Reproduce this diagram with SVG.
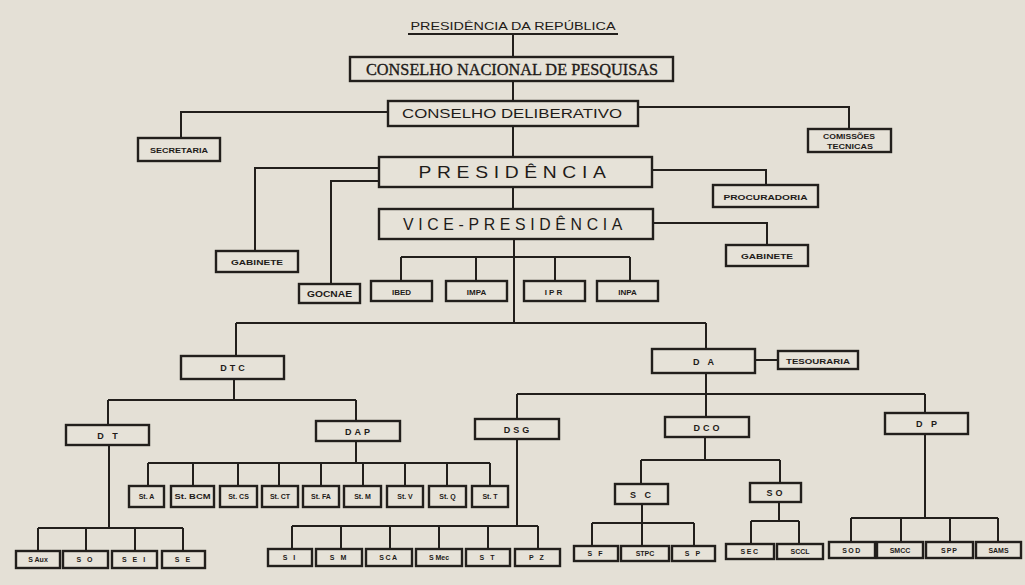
<svg xmlns="http://www.w3.org/2000/svg" width="1025" height="585" viewBox="0 0 1025 585">
<style>
.bg{fill:#e4e0d6}
.b{fill:#e6e2d8;stroke:#221f1c;stroke-width:2.4}
.c{fill:none;stroke:#221f1c;stroke-width:2}
.t{font-family:"Liberation Sans",Arial,sans-serif;font-weight:bold;fill:#1e1b18;text-anchor:middle}
.n{font-weight:normal}
.s{font-size:7px}
.m{font-size:9px;letter-spacing:3px}
.l{font-size:17px;font-weight:normal;letter-spacing:5px}
.serif{font-family:"Liberation Serif","Times New Roman",serif;fill:#1e1b18;text-anchor:middle;font-size:17px;stroke:#1e1b18;stroke-width:0.35}
</style>
<rect class="bg" x="0" y="0" width="1025" height="585"/>
<g id="connectors">
<line class="c" x1="408" y1="34" x2="618" y2="34"/>
<path class="c" d="M513 34V57M513 81V101M513 126V157M513 187V209"/>
<path class="c" d="M388 112H181V138M638 107H849V129"/>
<path class="c" d="M379 168H255V251M379 181H331V284M652 170H766V185M653 223H767V245"/>
<path class="c" d="M514 239V323M401 257H630M401 257V281M476 257V281M555 257V281M630 257V281"/>
<path class="c" d="M236 323H706M236 323V356M706 323V349M755 360H778"/>
<path class="c" d="M234 379V400M108 400H356M108 400V425M356 400V421"/>
<path class="c" d="M706 373V394M517 394H925M517 394V419M706 394V417M925 394V413"/>
<path class="c" d="M356 441V463M148 463H490M148 463V486M193 463V486M238 463V486M279 463V486M321 463V486M363 463V486M405 463V486M447 463V486M490 463V486"/>
<path class="c" d="M109 445V528M38 528H183M38 528V551M86 528V551M135 528V551M183 528V551"/>
<path class="c" d="M517 439V526M292 526H538M292 526V549M341 526V549M390 526V549M439 526V549M488 526V549M538 526V549"/>
<path class="c" d="M705 437V460M641 460H780M641 460V484M780 460V483"/>
<path class="c" d="M642 504V523M592 523H694M592 523V546M642 523V546M694 523V546"/>
<path class="c" d="M779 502V521M751 521H799M751 521V544M799 521V544"/>
<path class="c" d="M925 434V518M851 518H998M851 518V542M901 518V542M950 518V542M998 518V542"/>
</g>
<g id="n-presidencia-republica"><text class="t n" x="513" y="30" font-size="10.5" textLength="205" lengthAdjust="spacingAndGlyphs">PRESIDÊNCIA DA REPÚBLICA</text></g>
<g id="n-cnp"><rect class="b" x="350" y="57" width="323" height="24"/><text class="serif" x="512" y="75" textLength="292" lengthAdjust="spacingAndGlyphs">CONSELHO NACIONAL DE PESQUISAS</text></g>
<g id="n-cd"><rect class="b" x="388" y="101" width="250" height="25"/><text class="t n" x="512" y="118" font-size="12" textLength="220" lengthAdjust="spacingAndGlyphs">CONSELHO DELIBERATIVO</text></g>
<g id="n-secretaria"><rect class="b" x="138" y="138" width="82" height="23"/><text class="t s" x="179" y="152.5" textLength="58" lengthAdjust="spacingAndGlyphs">SECRETARIA</text></g>
<g id="n-comissoes"><rect class="b" x="808" y="129" width="83" height="23"/><text class="t" x="849" y="139" font-size="6.5" textLength="52" lengthAdjust="spacingAndGlyphs">COMISSÕES</text><text class="t" x="850" y="148.5" font-size="6.5" textLength="46" lengthAdjust="spacingAndGlyphs">TECNICAS</text></g>
<g id="n-presidencia"><rect class="b" x="379" y="157" width="273" height="30"/><text class="t l" x="515" y="178" textLength="193" lengthAdjust="spacingAndGlyphs">PRESIDÊNCIA</text></g>
<g id="n-gabinete-1"><rect class="b" x="216" y="251" width="82" height="21"/><text class="t" x="257" y="265" font-size="8" textLength="52" lengthAdjust="spacingAndGlyphs">GABINETE</text></g>
<g id="n-gocnae"><rect class="b" x="299" y="284" width="61" height="19"/><text class="t" x="329.5" y="297" font-size="8.5" textLength="45" lengthAdjust="spacingAndGlyphs">GOCNAE</text></g>
<g id="n-procuradoria"><rect class="b" x="713" y="185" width="105" height="22"/><text class="t" x="765.5" y="199.5" font-size="8" textLength="84" lengthAdjust="spacingAndGlyphs">PROCURADORIA</text></g>
<g id="n-vice"><rect class="b" x="379" y="209" width="274" height="30"/><text class="t l" x="515" y="230" textLength="224" lengthAdjust="spacingAndGlyphs">VICE-PRESIDÊNCIA</text></g>
<g id="n-gabinete-2"><rect class="b" x="726" y="245" width="82" height="21"/><text class="t" x="767" y="259" font-size="8" textLength="52" lengthAdjust="spacingAndGlyphs">GABINETE</text></g>
<g id="n-ibed"><rect class="b" x="371" y="281" width="61" height="20"/><text class="t" x="401.5" y="294.5" font-size="8">IBED</text></g>
<g id="n-impa"><rect class="b" x="446" y="281" width="61" height="20"/><text class="t" x="476.5" y="294.5" font-size="8">IMPA</text></g>
<g id="n-ipr"><rect class="b" x="524" y="281" width="61" height="20"/><text class="t" x="554.5" y="294.5" font-size="8" letter-spacing="2">IPR</text></g>
<g id="n-inpa"><rect class="b" x="597" y="281" width="61" height="20"/><text class="t" x="627.5" y="294.5" font-size="8">INPA</text></g>
<g id="n-dtc"><rect class="b" x="181" y="356" width="103" height="23"/><text class="t m" x="234" y="371">DTC</text></g>
<g id="n-da"><rect class="b" x="652" y="349" width="103" height="24"/><text class="t m" x="705" y="364.5">D A</text></g>
<g id="n-tesouraria"><rect class="b" x="778" y="351" width="80" height="18"/><text class="t" x="818" y="363.5" font-size="7.5" textLength="64" lengthAdjust="spacingAndGlyphs">TESOURARIA</text></g>
<g id="n-dt"><rect class="b" x="66" y="425" width="83" height="20"/><text class="t m" x="109" y="438.5">D T</text></g>
<g id="n-dap"><rect class="b" x="316" y="421" width="84" height="20"/><text class="t m" x="359" y="434.5">DAP</text></g>
<g id="n-dsg"><rect class="b" x="475" y="419" width="84" height="20"/><text class="t m" x="518" y="432.5">DSG</text></g>
<g id="n-dco"><rect class="b" x="665" y="417" width="84" height="20"/><text class="t m" x="708" y="430.5">DCO</text></g>
<g id="n-dp"><rect class="b" x="885" y="413" width="83" height="21"/><text class="t m" x="928" y="427">D P</text></g>
<g id="n-st-a"><rect class="b" x="129" y="486" width="35" height="21"/><text class="t s" x="146.5" y="499">St. A</text></g>
<g id="n-st-bcm"><rect class="b" x="171" y="486" width="43" height="21"/><text class="t s" x="192.5" y="499" textLength="36" lengthAdjust="spacingAndGlyphs">St. BCM</text></g>
<g id="n-st-cs"><rect class="b" x="220" y="486" width="37" height="21"/><text class="t s" x="238.5" y="499">St. CS</text></g>
<g id="n-st-ct"><rect class="b" x="262" y="486" width="36" height="21"/><text class="t s" x="280" y="499">St. CT</text></g>
<g id="n-st-fa"><rect class="b" x="303" y="486" width="36" height="21"/><text class="t s" x="321" y="499">St. FA</text></g>
<g id="n-st-m"><rect class="b" x="344" y="486" width="37" height="21"/><text class="t s" x="362.5" y="499">St. M</text></g>
<g id="n-st-v"><rect class="b" x="387" y="486" width="36" height="21"/><text class="t s" x="405" y="499">St. V</text></g>
<g id="n-st-q"><rect class="b" x="429" y="486" width="37" height="21"/><text class="t s" x="447.5" y="499">St. Q</text></g>
<g id="n-st-t"><rect class="b" x="472" y="486" width="36" height="21"/><text class="t s" x="490" y="499">St. T</text></g>
<g id="n-s-aux"><rect class="b" x="16" y="551" width="44" height="17"/><text class="t s" x="38" y="562">S Aux</text></g>
<g id="n-s-o"><rect class="b" x="63" y="551" width="45" height="17"/><text class="t s" x="85.5" y="562" letter-spacing="2">S O</text></g>
<g id="n-s-e-i"><rect class="b" x="112" y="551" width="45" height="17"/><text class="t s" x="134.5" y="562" letter-spacing="2">S E I</text></g>
<g id="n-s-e"><rect class="b" x="162" y="551" width="43" height="17"/><text class="t s" x="183.5" y="562" letter-spacing="2">S E</text></g>
<g id="n-s-i"><rect class="b" x="268" y="549" width="44" height="17"/><text class="t s" x="290" y="560" letter-spacing="2">S I</text></g>
<g id="n-s-m"><rect class="b" x="316" y="549" width="46" height="17"/><text class="t s" x="339" y="560" letter-spacing="2">S M</text></g>
<g id="n-sca"><rect class="b" x="366" y="549" width="46" height="17"/><text class="t s" x="389" y="560" letter-spacing="1.5">SCA</text></g>
<g id="n-s-mec"><rect class="b" x="416" y="549" width="46" height="17"/><text class="t s" x="439" y="560">S Mec</text></g>
<g id="n-s-t"><rect class="b" x="466" y="549" width="44" height="17"/><text class="t s" x="488" y="560" letter-spacing="2">S T</text></g>
<g id="n-p-z"><rect class="b" x="515" y="549" width="45" height="17"/><text class="t s" x="537.5" y="560" letter-spacing="2">P Z</text></g>
<g id="n-sc"><rect class="b" x="615" y="484" width="53" height="20"/><text class="t m" x="642" y="497.5">S C</text></g>
<g id="n-so"><rect class="b" x="750" y="483" width="51" height="19"/><text class="t m" x="776" y="496" letter-spacing="1.5">SO</text></g>
<g id="n-s-f"><rect class="b" x="574" y="546" width="44" height="15"/><text class="t s" x="596" y="556" letter-spacing="2">S F</text></g>
<g id="n-stpc"><rect class="b" x="621" y="546" width="48" height="15"/><text class="t s" x="645" y="556">STPC</text></g>
<g id="n-s-p"><rect class="b" x="672" y="546" width="43" height="15"/><text class="t s" x="693.5" y="556" letter-spacing="2">S P</text></g>
<g id="n-sec"><rect class="b" x="726" y="544" width="48" height="15"/><text class="t s" x="750" y="554" letter-spacing="1.5">SEC</text></g>
<g id="n-sccl"><rect class="b" x="777" y="544" width="46" height="15"/><text class="t s" x="800" y="554">SCCL</text></g>
<g id="n-sod"><rect class="b" x="829" y="542" width="46" height="16"/><text class="t s" x="852" y="552.5" letter-spacing="1.5">SOD</text></g>
<g id="n-smcc"><rect class="b" x="877" y="542" width="46" height="16"/><text class="t s" x="900" y="552.5">SMCC</text></g>
<g id="n-spp"><rect class="b" x="926" y="542" width="47" height="16"/><text class="t s" x="949.5" y="552.5" letter-spacing="1">SPP</text></g>
<g id="n-sams"><rect class="b" x="976" y="542" width="45" height="16"/><text class="t s" x="998.5" y="552.5">SAMS</text></g>
</svg>
